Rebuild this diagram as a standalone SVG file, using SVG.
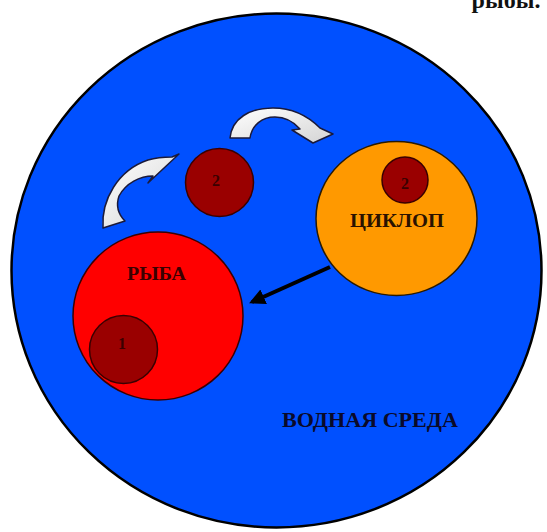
<svg xmlns="http://www.w3.org/2000/svg" width="547" height="532" viewBox="0 0 547 532">
  <defs>
    <linearGradient id="ag" x1="0" y1="0" x2="1" y2="1">
      <stop offset="0" stop-color="#ffffff"/>
      <stop offset="1" stop-color="#d4d4d4"/>
    </linearGradient>
    <marker id="ah" viewBox="0 0 10 10" refX="8" refY="5" markerWidth="4" markerHeight="4" orient="auto" markerUnits="strokeWidth">
      <path d="M0,0 L10,5 L0,10 Z" fill="#000"/>
    </marker>
    <style>
      .lbl{font-family:"Liberation Serif","Times New Roman",serif;font-weight:bold;text-anchor:middle}
      .num{font-size:16px;fill:#3a0000}
      .dark{fill:#9a0000;stroke:#3a0000;stroke-width:1.5}
      .barrow{fill:url(#ag);stroke:#1a1a3a;stroke-width:1.5;stroke-linejoin:round}
    </style>
  </defs>
  <rect width="547" height="532" fill="#ffffff"/>
  <text class="lbl" x="506" y="8" font-size="24" fill="#111">рыбы.</text>

  <g id="water">
    <ellipse cx="276.5" cy="270.5" rx="265" ry="257" fill="#0050ff" stroke="#000" stroke-width="2.5"/>
    <text class="lbl" x="370" y="427" font-size="21" fill="#0a0a2a" textLength="176" lengthAdjust="spacingAndGlyphs">ВОДНАЯ СРЕДА</text>
  </g>

  <g id="fish">
    <ellipse cx="158" cy="316" rx="85" ry="84" fill="#ff0000" stroke="#3a0000" stroke-width="1.5"/>
    <text class="lbl" x="156.5" y="280" font-size="18" fill="#3a0000" textLength="59" lengthAdjust="spacingAndGlyphs">РЫБА</text>
  </g>

  <g id="stage1">
    <circle class="dark" cx="123.5" cy="349.5" r="34"/>
    <text class="lbl num" x="122" y="349">1</text>
  </g>

  <g id="cyclops">
    <ellipse cx="396.5" cy="218.5" rx="80.5" ry="77" fill="#ff9900" stroke="#2a1a00" stroke-width="1.5"/>
    <text class="lbl" x="397" y="227" font-size="18" fill="#2a1200" textLength="94" lengthAdjust="spacingAndGlyphs">ЦИКЛОП</text>
  </g>

  <g id="stage2-in-cyclops">
    <circle class="dark" cx="405" cy="180" r="23"/>
    <text class="lbl num" x="405" y="189">2</text>
  </g>

  <g id="stage2">
    <circle class="dark" cx="219.5" cy="182.5" r="34"/>
    <text class="lbl num" x="216" y="186">2</text>
  </g>

  <g id="connectors">
    <path class="barrow" d="M 103 228 C 101 200, 118 170, 148 160 C 158 157, 166 157, 172 157 L 179 154 L 148 183 L 153 176 C 140 176, 126 183, 119 196 C 116 205, 118 214, 125 221 Z"/>
    <path class="barrow" d="M 230 138 C 232 118, 250 108, 273 108 C 292 108, 308 116, 320 128 L 333 134 L 313 143 L 292 130 L 300 129 C 292 120, 284 117, 275 117 C 262 117, 252 125, 250 138 Z"/>
    <line x1="330" y1="267" x2="252" y2="302" stroke="#000" stroke-width="4" marker-end="url(#ah)"/>
  </g>
</svg>
